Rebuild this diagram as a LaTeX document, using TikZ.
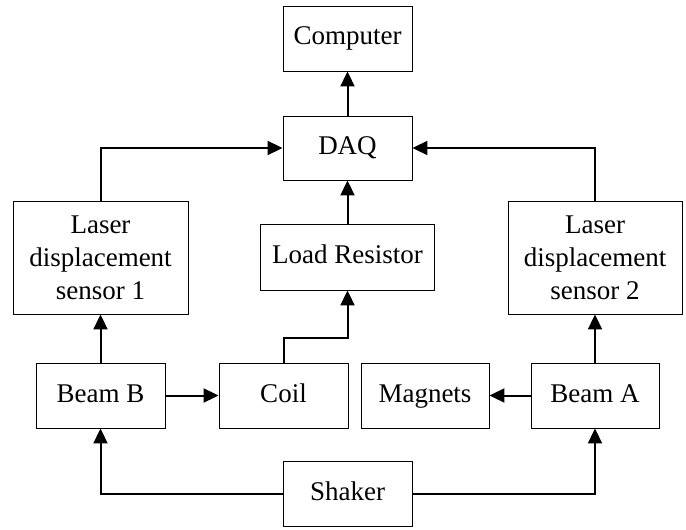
\documentclass[tikz,border=0pt]{standalone}
\usepackage{fontspec}
\setmainfont{Liberation Serif}
\usetikzlibrary{arrows.meta}
\tikzset{
  blk/.style={draw=black, line width=0.9pt, fill=white, inner sep=0pt, align=center,
    font=\fontsize{27}{33}\selectfont},
  one/.style={blk, text height=19pt, text depth=6pt},
  arr/.style={line width=2pt, -{Triangle[length=15pt,width=14pt]}},
}
\begin{document}
\begin{tikzpicture}[x=1pt,y=-1pt]
\useasboundingbox (0,0) rectangle (686,530);
\node[one, minimum width=129pt, minimum height=65pt] (computer) at (347.5,38.5) {Computer};
\node[one, minimum width=129pt, minimum height=64pt] (daq) at (347.5,148) {DAQ};
\node[one, minimum width=174pt, minimum height=66pt] (load) at (347.5,257) {Load Resistor};
\node[blk, minimum width=175pt, minimum height=113pt] (laser1) at (100.5,257.5) {Laser\\displacement\\sensor 1};
\node[blk, minimum width=174pt, minimum height=113pt] (laser2) at (595,257.5) {Laser\\displacement\\sensor 2};
\node[one, minimum width=129pt, minimum height=65pt] (beamB) at (100.5,395.5) {Beam B};
\node[one, minimum width=129pt, minimum height=65pt] (coil) at (283.5,395.5) {Coil};
\node[one, minimum width=128pt, minimum height=65pt] (magnets) at (425,395.5) {Magnets};
\node[one, minimum width=128pt, minimum height=65pt] (beamA) at (595,395.5) {Beam A};
\node[one, minimum width=129pt, minimum height=65pt] (shaker) at (347.5,493.5) {Shaker};
\coordinate (cj) at (283.5,338);
\draw[arr] (daq) -- (computer);
\draw[arr] (load) -- (daq);
\draw[arr] (laser1.north) |- (daq.west);
\draw[arr] (laser2.north) |- (daq.east);
\draw[arr] (beamB) -- (laser1);
\draw[arr] (beamA) -- (laser2);
\draw[arr] (beamB) -- (coil);
\draw[arr] (beamA) -- (magnets);
\draw[arr] (coil.north) -- (cj) -| (load.south);
\draw[arr] (shaker.west) -| (beamB.south);
\draw[arr] (shaker.east) -| (beamA.south);
\end{tikzpicture}
\end{document}
